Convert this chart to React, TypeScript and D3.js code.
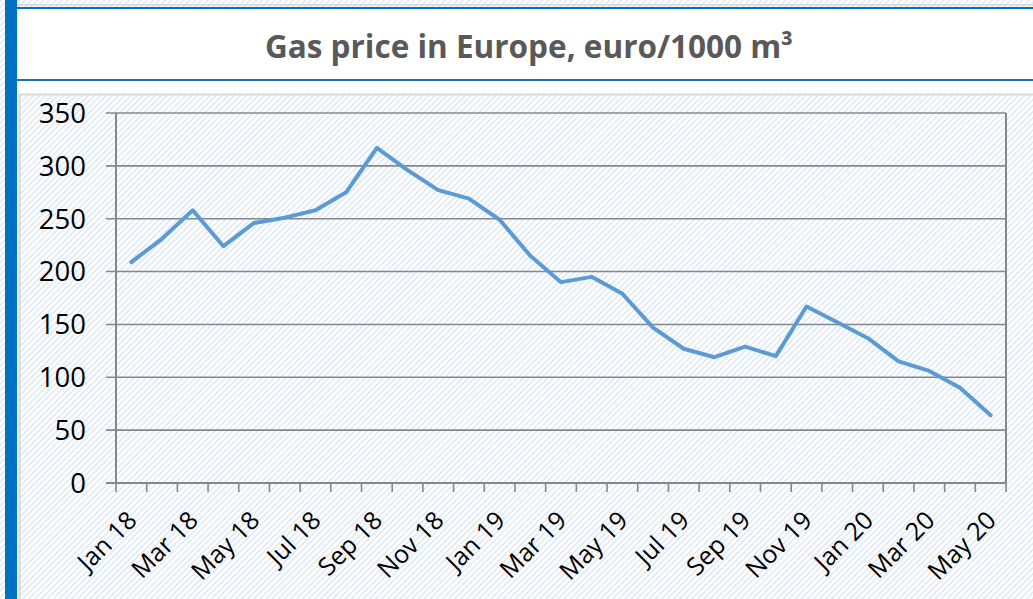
import React from "react";
import * as d3 from "d3";

const months = [
  "Jan 18", "Feb 18", "Mar 18", "Apr 18", "May 18", "Jun 18", "Jul 18", "Aug 18", "Sep 18", "Oct 18", "Nov 18", "Dec 18",
  "Jan 19", "Feb 19", "Mar 19", "Apr 19", "May 19", "Jun 19", "Jul 19", "Aug 19", "Sep 19", "Oct 19", "Nov 19", "Dec 19",
  "Jan 20", "Feb 20", "Mar 20", "Apr 20", "May 20",
];
const prices = [
  209, 231, 258, 224, 246, 251, 258, 275, 317, 296, 277, 269,
  249, 215, 190, 195, 179, 147, 127, 119, 129, 120, 167, 152,
  137, 115, 106, 90, 64,
];
const yTicks = [0, 50, 100, 150, 200, 250, 300, 350];
const title = "Gas price in Europe, euro/1000 m³";

const W = 1033;
const H = 599;
const plot = { left: 116, right: 1006, top: 113, bottom: 483 };
const FONT = "'Open Sans', 'Noto Sans', sans-serif";
const AXIS = "#878787";

export default function App() {
  const x = d3.scaleBand<string>().domain(months).range([plot.left, plot.right]);
  const y = d3.scaleLinear().domain([0, 350]).range([plot.bottom, plot.top]);
  const cx = (m: string) => (x(m) as number) + x.bandwidth() / 2;
  const line = d3
    .line<number>()
    .x((_, i) => cx(months[i]))
    .y((d) => y(d));
  const boundaries = months.map((m) => x(m) as number).concat([plot.right]);

  return (
    <svg
      width={W}
      height={H}
      style={{ position: "absolute", left: 0, top: 0, display: "block" }}
      xmlns="http://www.w3.org/2000/svg"
    >
      <defs>
        <pattern id="hatch" patternUnits="userSpaceOnUse" width={4.3} height={4.3} patternTransform="rotate(45)">
          <rect width={4.3} height={4.3} fill="#ffffff" />
          <line x1={1} y1={0} x2={1} y2={4.3} stroke="#dde7f5" strokeWidth={1.5} />
        </pattern>
      </defs>
      <rect x={0} y={0} width={W} height={H} fill="url(#hatch)" />

      {/* left blue bar and frame */}
      <rect x={17} y={81} width={2} height={H - 81} fill="#ffffff" />
      <line x1={19.5} y1={94} x2={19.5} y2={H} stroke="#d6d6d6" strokeWidth={2} />
      <rect x={17} y={81} width={W - 17} height={13} fill="#ffffff" />
      <line x1={19} y1={94.5} x2={W} y2={94.5} stroke="#d9d9d9" strokeWidth={2} />

      {/* title box */}
      <line x1={17} y1={5} x2={W} y2={5} stroke="#d4d4d4" strokeWidth={1.5} />
      <rect x={17} y={9} width={W - 17} height={70} fill="#ffffff" />
      <line x1={17} y1={8} x2={W} y2={8} stroke="#0070c0" strokeWidth={2.2} />
      <line x1={17} y1={80} x2={W} y2={80} stroke="#1f6fb8" strokeWidth={2.2} />
      <rect x={5} y={0} width={12} height={H} fill="#0070c0" />
      <text
        x={529}
        y={58}
        textAnchor="middle"
        fontFamily={FONT}
        fontWeight={700}
        fontSize={31.5}
        fill="#595959"
      >
        {title}
      </text>

      {/* gridlines */}
      {yTicks.map((t) => (
        <line key={"g" + t} x1={plot.left - 10} x2={plot.right} y1={y(t)} y2={y(t)} stroke={AXIS} strokeWidth={1.6} />
      ))}
      {/* right border */}
      <line x1={plot.right} x2={plot.right} y1={plot.top} y2={plot.bottom} stroke={AXIS} strokeWidth={2} />
      {/* y axis */}
      <line x1={plot.left} x2={plot.left} y1={plot.top} y2={plot.bottom} stroke={AXIS} strokeWidth={2} />
      {/* x axis */}
      <line x1={plot.left - 10} x2={plot.right} y1={plot.bottom} y2={plot.bottom} stroke={AXIS} strokeWidth={2} />
      {boundaries.map((b, i) => (
        <line key={"t" + i} x1={b} x2={b} y1={plot.bottom} y2={plot.bottom + 9} stroke={AXIS} strokeWidth={1.6} />
      ))}

      {yTicks.map((t) => (
        <text
          key={"yl" + t}
          x={86}
          y={y(t)}
          dy="0.36em"
          textAnchor="end"
          fontFamily={FONT}
          fontSize={27.5}
          fill="#000000"
        >
          {t}
        </text>
      ))}

      {months.map((m, i) =>
        i % 2 === 0 ? (
          <text
            key={"xl" + m}
            transform={`translate(${cx(m) + 7},${plot.bottom + 39}) rotate(-45)`}
            textAnchor="end"
            fontFamily={FONT}
            fontSize={25}
            fill="#000000"
          >
            {m}
          </text>
        ) : null
      )}

      <path d={line(prices) as string} fill="none" stroke="#5b9bd5" strokeWidth={4} strokeLinejoin="round" strokeLinecap="round" />
    </svg>
  );
}
